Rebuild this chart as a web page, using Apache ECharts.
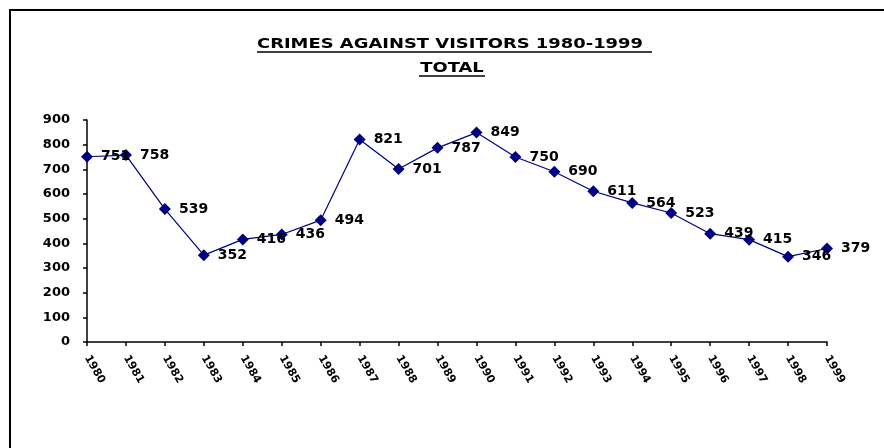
<!DOCTYPE html>
<html><head><meta charset="utf-8">
<script src="https://cdn.jsdelivr.net/npm/echarts@6/dist/echarts.min.js"></script>
<style>html,body{margin:0;padding:0;background:#fff}#c{width:884px;height:448px}</style>
</head><body><div id="c"></div>
<script>
const years = ['1980','1981','1982','1983','1984','1985','1986','1987','1988','1989','1990','1991','1992','1993','1994','1995','1996','1997','1998','1999'];
const totals = [751,758,539,352,416,436,494,821,701,787,849,750,690,611,564,523,439,415,346,379];
const titleLine1 = 'CRIMES AGAINST VISITORS 1980-1999';
const titleLine2 = 'TOTAL';
const yMin = 0, yMax = 900, yStep = 100;

const chart = echarts.init(document.getElementById('c'));
const numFont = 'DejaVu Sans';
chart.setOption({
  backgroundColor: '#fff',
  animation: false,
  graphic: [
    {type:'rect', shape:{x:10,y:10,width:1000,height:600}, style:{fill:'none', stroke:'#000', lineWidth:2}},
    {type:'text', x:450, y:44.5, scaleX:1.28, style:{text:titleLine1, font:'bold 14px "DejaVu Sans"', fill:'#000', align:'center', verticalAlign:'middle'}},
    {type:'line', shape:{x1:257,y1:52,x2:652,y2:52}, style:{stroke:'#000', lineWidth:1.5}},
    {type:'text', x:452, y:68, scaleX:1.28, style:{text:titleLine2, font:'bold 14px "DejaVu Sans"', fill:'#000', align:'center', verticalAlign:'middle'}},
    {type:'line', shape:{x1:419,y1:76,x2:485,y2:76}, style:{stroke:'#000', lineWidth:1.5}}
  ],
  grid: {left:87, right:57, top:120, bottom:106, containLabel:false},
  xAxis: {
    type:'category', data: years, boundaryGap:false,
    axisLine:{show:true, lineStyle:{color:'#000', width:1.5}},
    axisTick:{show:true, length:4, lineStyle:{color:'#000', width:1.5}},
    axisLabel:{interval:0, rotate:-60, margin:14, color:'#000', fontFamily:numFont, fontWeight:'bold', fontSize:11}
  },
  yAxis: {
    type:'value', min:yMin, max:yMax, interval:yStep,
    splitLine:{show:false},
    axisLine:{show:true, lineStyle:{color:'#000', width:1.5}},
    axisTick:{show:true, length:4, lineStyle:{color:'#000', width:1.5}},
    axisLabel:{color:'#000', fontFamily:numFont, fontWeight:'bold', fontSize:13, margin:17}
  },
  series: [{
    type:'line', data: totals,
    symbol:'diamond', symbolSize:12,
    itemStyle:{color:'#000080'},
    lineStyle:{color:'#000080', width:1.2},
    label:{show:true, position:'right', distance:8, color:'#000', fontFamily:numFont, fontWeight:'bold', fontSize:14}
  }]
});
</script></body></html>
